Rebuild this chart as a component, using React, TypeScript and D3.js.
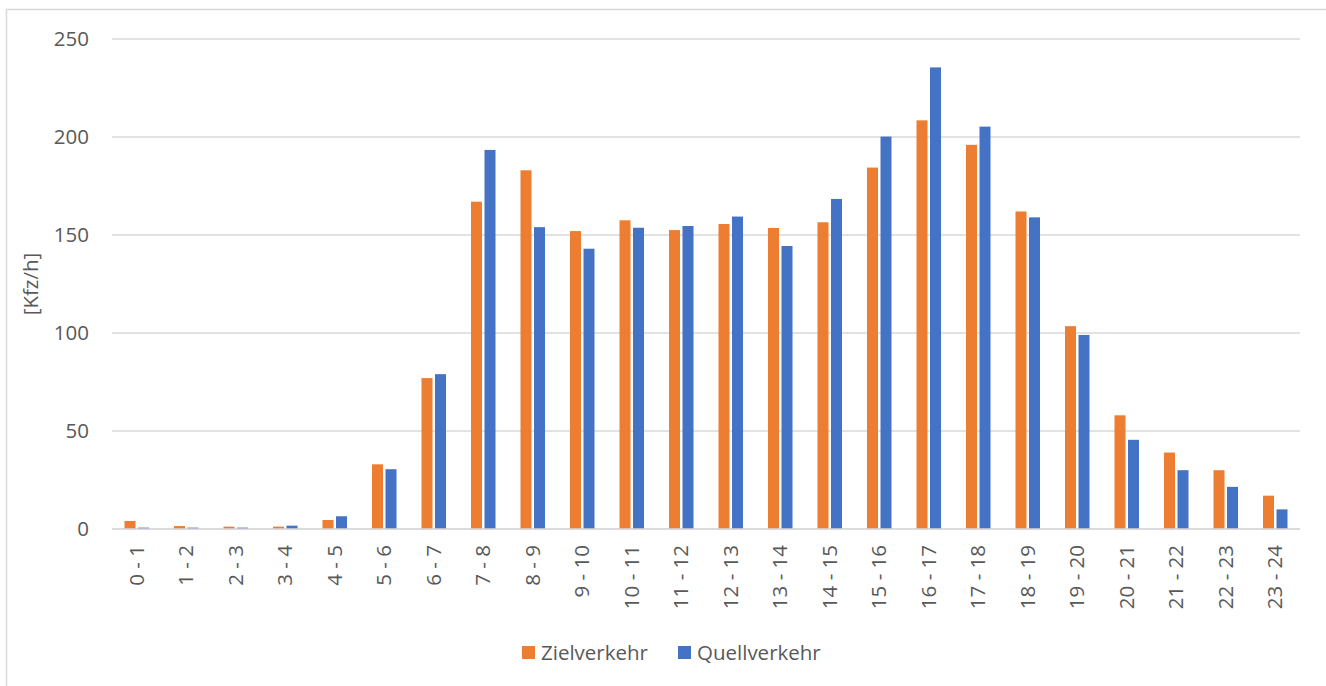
import React from "react";
import * as d3 from "d3";

const categories = ["0 - 1","1 - 2","2 - 3","3 - 4","4 - 5","5 - 6","6 - 7","7 - 8","8 - 9","9 - 10","10 - 11","11 - 12","12 - 13","13 - 14","14 - 15","15 - 16","16 - 17","17 - 18","18 - 19","19 - 20","20 - 21","21 - 22","22 - 23","23 - 24"];
const zielverkehr = [4.1,1.5,1.2,1.2,4.6,33,77,167,183,152,157.5,152.5,155.6,153.6,156.5,184.4,208.5,196,162,103.5,58,39,30,17];
const quellverkehr = [0.7,0.7,0.7,1.7,6.5,30.5,79,193.4,154,143,153.7,154.6,159.4,144.4,168.4,200.2,235.5,205.3,159,99,45.5,30,21.5,10];
const yTicks = [0,50,100,150,200,250];
const seriesNames = ["Zielverkehr","Quellverkehr"];
const colors = ["#ED7D31","#4472C4"];

const W = 1326, H = 686;
const left = 112, right = 1300, top = 39, bottom = 529;
const font = "'Open Sans', sans-serif";
const textColor = "#595959";
const fs = 20.5;

export default function App() {
  const x = d3.scaleBand<string>().domain(categories).range([left, right]);
  const y = d3.scaleLinear().domain([0, 250]).range([bottom, top]);
  const barW = 11;
  const gap = 2.5;
  const series = [zielverkehr, quellverkehr];
  return (
    <svg width={W} height={H} style={{ position: "absolute", left: 0, top: 0 }} fontFamily={font}>
      <rect x={0} y={0} width={W} height={H} fill="#fff" />
      <rect x={6.5} y={9.5} width={W + 50} height={H + 50} fill="none" stroke="#d9d9d9" strokeWidth={1.5} />
      {yTicks.map((t) => (
        <g key={t}>
          <line x1={left} x2={right} y1={y(t)} y2={y(t)} stroke="#d9d9d9" strokeWidth={1.3} />
          <text x={89} y={y(t)} dy="0.35em" textAnchor="end" fontSize={fs} fill={textColor}>{t}</text>
        </g>
      ))}
      {categories.map((c, i) => {
        const cx = x(c)! + x.bandwidth() / 2;
        return (
          <g key={c}>
            {series.map((s, k) => {
              const bx = k === 0 ? cx - gap / 2 - barW : cx + gap / 2;
              return (
                <rect key={k} x={bx} y={y(s[i])} width={barW} height={y(0) - y(s[i])} fill={colors[k]} />
              );
            })}
            <text transform={`translate(${cx},545) rotate(-90)`} textAnchor="end" dy="0.35em" fontSize={fs} fill={textColor}>{c}</text>
          </g>
        );
      })}
      <line x1={left} x2={right} y1={y(0)} y2={y(0)} stroke="#d9d9d9" strokeWidth={1.3} />
      <text transform={`translate(31,284) rotate(-90)`} textAnchor="middle" dy="0.35em" fontSize={fs} fill={textColor}>[Kfz/h]</text>
      <g>
        <rect x={522} y={646} width={13} height={13} fill={colors[0]} />
        <text x={541} y={652.5} dy="0.35em" fontSize={fs} fill={textColor}>{seriesNames[0]}</text>
        <rect x={678} y={646} width={13} height={13} fill={colors[1]} />
        <text x={697} y={652.5} dy="0.35em" fontSize={fs} fill={textColor}>{seriesNames[1]}</text>
      </g>
    </svg>
  );
}
